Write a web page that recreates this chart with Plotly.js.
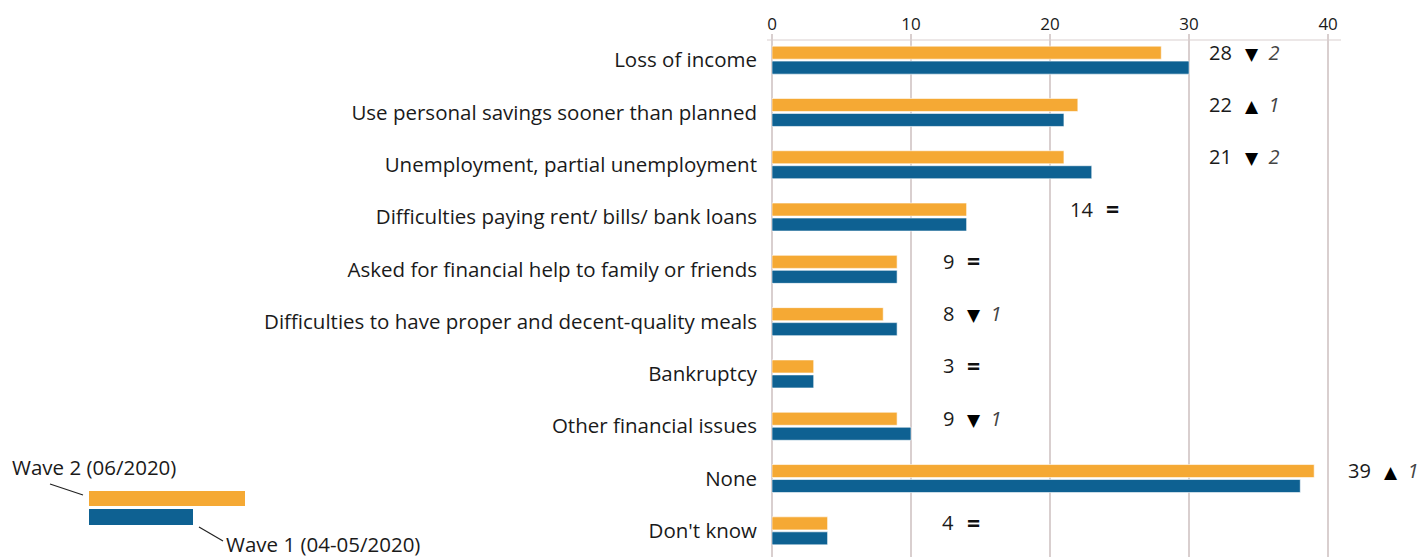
<!DOCTYPE html>
<html>
<head>
<meta charset="utf-8">
<script src="https://cdn.plot.ly/plotly-3.0.1.min.js"></script>
<style>html,body{margin:0;padding:0;background:#fff;}#chart{width:1422px;height:560px;}</style>
</head>
<body>
<div id="chart"></div>
<script>
const categories = [
  "Loss of income",
  "Use personal savings sooner than planned",
  "Unemployment, partial unemployment",
  "Difficulties paying rent/ bills/ bank loans",
  "Asked for financial help to family or friends",
  "Difficulties to have proper and decent-quality meals",
  "Bankruptcy",
  "Other financial issues",
  "None",
  "Don't know"
];
const wave2 = [28, 22, 21, 14, 9, 8, 3, 9, 39, 4];
const wave1 = [30, 21, 23, 14, 9, 9, 3, 10, 38, 4];
const seriesNames = ["Wave 2 (06/2020)", "Wave 1 (04-05/2020)"];
const xTicks = [0, 10, 20, 30, 40];

const ORANGE = "#F5A934";
const BLUE = "#0E6192";
const GRID = "#D9CFCF";
const FONT = "'Open Sans', sans-serif";
const XMAX = 41;

// layout geometry (pixels)
const W = 1422, H = 560;
const M = {l: 772, r: 80, t: 34, b: 3};
const PW = W - M.l - M.r, PH = H - M.t - M.b;
const px = x => (x - M.l) / PW;
const py = y => 1 - (y - M.t) / PH;
const dx = v => v / XMAX; // data x -> paper x

const traces = [
  {type: "bar", orientation: "h", name: seriesNames[0], y: categories, x: wave2,
   marker: {color: ORANGE, line: {color: "#fff", width: 0.6}}, hoverinfo: "x+name"},
  {type: "bar", orientation: "h", name: seriesNames[1], y: categories, x: wave1,
   marker: {color: BLUE, line: {color: "#fff", width: 0.6}}, hoverinfo: "x+name"}
];

const TRI = "font-family:'DejaVu Sans';font-size:17px;color:#000";
const annotations = [];
categories.forEach((c, i) => {
  const mx = Math.max(wave1[i], wave2[i]);
  const g = Math.ceil(mx / 10) * 10;
  const d = wave2[i] - wave1[i];
  annotations.push({x: dx(g + 3.25), y: c, xref: "paper", yref: "y", text: String(wave2[i]),
    showarrow: false, xanchor: "right", yshift: 8,
    font: {family: FONT, size: 20, color: "#1a1a1a"}});
  let sym;
  if (d > 0) sym = "<span style=\"" + TRI + "\">▲</span>  <i><span style='color:#444'>" + d + "</span></i>";
  else if (d < 0) sym = "<span style=\"" + TRI + "\">▼</span>  <i><span style='color:#444'>" + (-d) + "</span></i>";
  else sym = "<b><span style='font-size:23px'>=</span></b>";
  annotations.push({x: dx(g + 3.9), y: c, xref: "paper", yref: "y", text: sym,
    showarrow: false, xanchor: "left", yshift: 8,
    font: {family: FONT, size: 20, color: "#111"}});
});

// custom legend texts
annotations.push({x: px(10), y: py(467), xref: "paper", yref: "paper", text: seriesNames[0],
  showarrow: false, xanchor: "left", yanchor: "middle", font: {family: FONT, size: 20.5, color: "#1a1a1a"}});
annotations.push({x: px(224), y: py(544), xref: "paper", yref: "paper", text: seriesNames[1],
  showarrow: false, xanchor: "left", yanchor: "middle", font: {family: FONT, size: 20.5, color: "#1a1a1a"}});

const shapes = [
  // top axis line
  {type: "line", xref: "paper", yref: "paper", x0: px(767), x1: px(1341), y0: py(40), y1: py(40),
   line: {color: GRID, width: 1.2}},
  // legend swatches
  {type: "rect", xref: "paper", yref: "paper", x0: px(89), x1: px(245), y0: py(491), y1: py(506),
   fillcolor: ORANGE, line: {width: 0}},
  {type: "rect", xref: "paper", yref: "paper", x0: px(89), x1: px(193), y0: py(509), y1: py(525),
   fillcolor: BLUE, line: {width: 0}},
  {type: "line", xref: "paper", yref: "paper", x0: px(50), x1: px(83), y0: py(484), y1: py(495),
   line: {color: "#222", width: 1.2}},
  {type: "line", xref: "paper", yref: "paper", x0: px(199), x1: px(223), y0: py(527), y1: py(541),
   line: {color: "#222", width: 1.2}}
];

const layout = {
  width: W, height: H,
  margin: M,
  paper_bgcolor: "#fff", plot_bgcolor: "#fff",
  showlegend: false,
  barmode: "group",
  bargap: 0.427,
  bargroupgap: 0.13,
  font: {family: FONT, color: "#1a1a1a"},
  xaxis: {
    side: "top", range: [0, XMAX], tickvals: xTicks, ticktext: xTicks.map(String),
    showgrid: true, gridcolor: GRID, gridwidth: 1.2,
    zeroline: true, zerolinecolor: GRID, zerolinewidth: 1.2,
    showline: false, ticks: "", tickfont: {family: FONT, size: 17, color: "#1a1a1a"},
    fixedrange: true
  },
  yaxis: {
    categoryorder: "array", categoryarray: categories, range: [9.5, -0.5],
    showgrid: false, zeroline: false, showline: false, ticks: "",
    ticklabelstandoff: 14,
    tickfont: {family: FONT, size: 20.5, color: "#1a1a1a"}, fixedrange: true
  },
  annotations: annotations,
  shapes: shapes
};

Plotly.newPlot("chart", traces, layout, {displayModeBar: false, staticPlot: true});
</script>
</body>
</html>
